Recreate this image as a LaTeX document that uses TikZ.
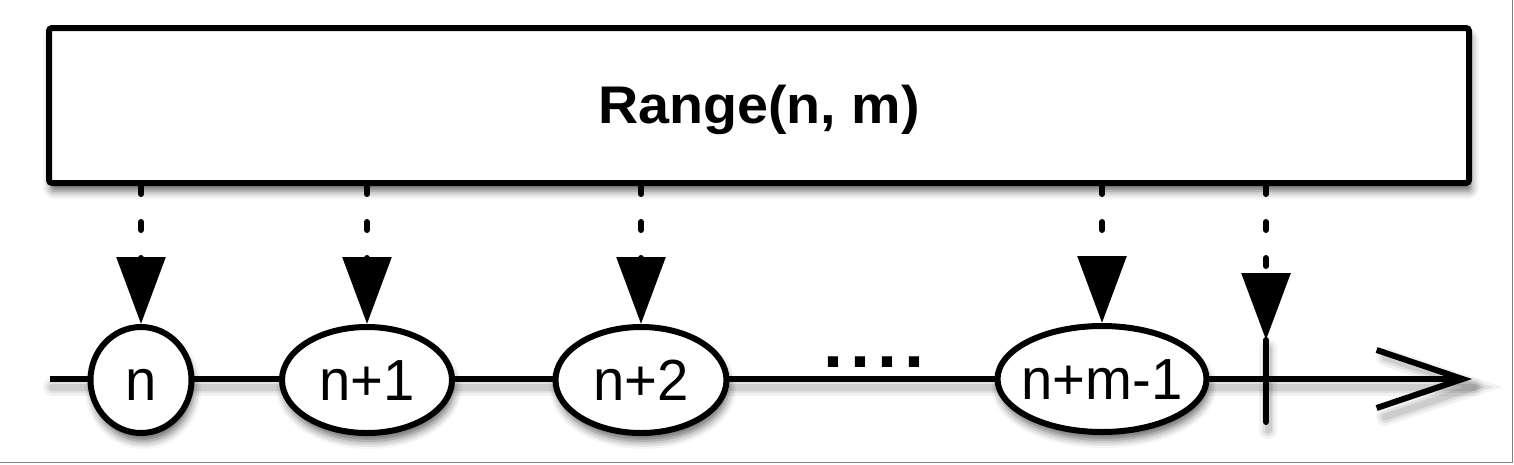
\documentclass[tikz,border=0pt]{standalone}
\usepackage{fontspec}
\setmainfont{Liberation Sans}
\newfontfamily\rngfont[FakeStretch=1.05]{Liberation Sans}
\newfontfamily\lblfont[FakeStretch=0.97]{Liberation Sans}
\newfontfamily\dotfont[LetterSpace=9.7]{Liberation Sans}
\usetikzlibrary{arrows.meta,shapes.geometric,shadows.blur,calc}
\begin{document}
\begin{tikzpicture}[x=1pt,y=-1pt,
  lw/.style={line width=6pt},
  softshadow/.style={blur shadow={shadow xshift=2pt,shadow yshift=-8pt,shadow blur radius=8pt,shadow opacity=60}},
  elem/.style={ellipse,draw,lw,fill=white,inner sep=0pt,minimum height=106pt,softshadow,
    text height=41.5pt,text depth=0pt,font=\lblfont\fontsize{58}{58}\selectfont},
  dasharrow/.style={lw,line cap=round,dash pattern=on 8pt off 28pt,-{Triangle[length=67pt,width=48pt]}},
  lineshadow/.style={black,transform canvas={xshift=2pt,yshift=-8pt}},
]
\useasboundingbox (0,0) rectangle (1514,464);
\draw[gray,line width=1.5pt] (1512.5,0) -- (1512.5,462.5) -- (0,462.5);

% box
\node[draw,lw,fill=white,rounded corners=3pt,minimum width=1420pt,minimum height=155pt,
  inner sep=0pt,softshadow,text height=35pt,text depth=0pt,
  font=\rngfont\bfseries\fontsize{53}{53}\selectfont] (box) at (759,105.5) {Range(n, m)};

% timeline
\coordinate (tlstart) at (50,379);
\coordinate (tlend) at (1472,379);
\coordinate (tickT) at (1266,340);
\coordinate (tickB) at (1266,422);
\foreach \w/\o in {18/0.05,12/0.07,7/0.09}{
  \draw[lineshadow,line width=\w pt,opacity=\o,line cap=round] (tlstart) -- (tlend);
  \draw[lineshadow,line width=\w pt,opacity=\o,line cap=round] ($(tlend)+(-89,-30)$) -- (tlend) -- ($(tlend)+(-89,30)$);
  \draw[lineshadow,line width=\w pt,opacity=\o,line cap=round] (tickT) -- (tickB);
}
\draw[lw,-{Straight Barb[length=86pt,width=58pt,sharp]}] (tlstart) -- (tlend);
\draw[lw,line cap=round] (tickT) -- (tickB);

% elements
\node[elem,minimum width=101pt] (n0) at (141,380) {\makebox[0pt]{n}};
\node[elem,minimum width=170pt] (n1) at (367,380) {\makebox[0pt]{n+1}};
\node[elem,minimum width=171pt] (n2) at (641,380) {\makebox[0pt]{n+2}};
\node[elem,minimum width=209pt] (nm) at (1102,379) {\makebox[0pt]{n+m-1}};
\node[anchor=base west,inner sep=0pt,font=\dotfont\bfseries\fontsize{72}{72}\selectfont] (dots) at (823,367) {....};

% arrows
\draw[dasharrow] (box.south -| n0) -- (n0.north);
\draw[dasharrow] (box.south -| n1) -- (n1.north);
\draw[dasharrow] (box.south -| n2) -- (n2.north);
\draw[dasharrow] (box.south -| nm) -- (nm.north);
\draw[dasharrow] (box.south -| tickT) -- (tickT);
\end{tikzpicture}
\end{document}
